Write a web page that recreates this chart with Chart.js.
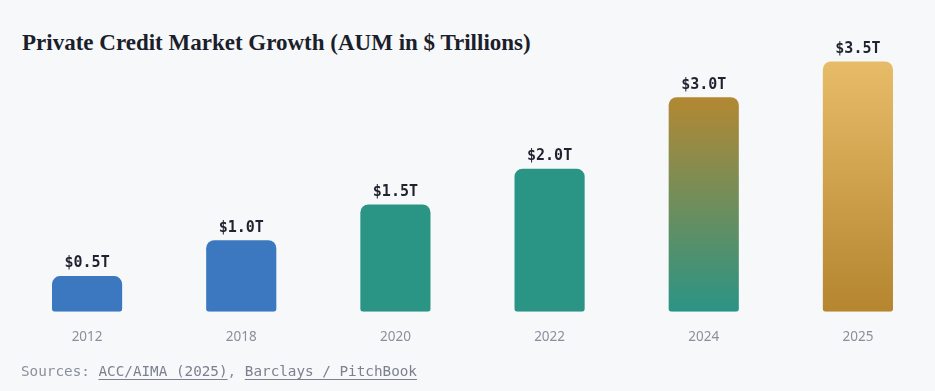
<!DOCTYPE html>
<html>
<head>
<meta charset="utf-8">
<script src="https://cdn.jsdelivr.net/npm/chart.js@4"></script>
<style>
  html, body { margin: 0; padding: 0; background: #f7f8fa; }
  body { width: 935px; height: 391px; position: relative; overflow: hidden; }
  h1 {
    position: absolute; left: 22px; top: 30px; margin: 0;
    font-family: "Liberation Serif", "DejaVu Serif", serif;
    font-weight: bold; font-size: 23px; color: #1b1e2b;
  }
  #wrap { position: absolute; left: 0; top: 0; width: 935px; height: 391px; }
  .src {
    position: absolute; left: 21px; top: 363px;
    font-family: "DejaVu Sans Mono", monospace; font-size: 14.3px; color: #8a8f9c;
  }
  .src a { color: #7b8190; text-decoration: underline; text-underline-offset: 3px; }
</style>
</head>
<body>
<h1>Private Credit Market Growth (AUM in $ Trillions)</h1>
<div id="wrap"><canvas id="myChart" width="935" height="391"></canvas></div>
<div class="src">Sources: <a>ACC/AIMA (2025)</a>, <a>Barclays / PitchBook</a></div>
<script>
var years = ["2012", "2018", "2020", "2022", "2024", "2025"];
var aum = [0.5, 1.0, 1.5, 2.0, 3.0, 3.5];
var barLabels = ["$0.5T", "$1.0T", "$1.5T", "$2.0T", "$3.0T", "$3.5T"];

// top colour / bottom colour for each bar
var topColors = ['#3b78c0', '#3b78c0', '#2a9485', '#2a9485', '#b38832', '#e7bc69'];
var bottomColors = ['#3b78c0', '#3b78c0', '#2a9485', '#2a9485', '#2a9485', '#b5852f'];

var valueLabels = {
  id: 'valueLabels',
  afterDatasetsDraw: function(chart) {
    var c = chart.ctx;
    var meta = chart.getDatasetMeta(0);
    c.save();
    c.font = 'bold 15px "DejaVu Sans Mono", monospace';
    c.fillStyle = '#1f2330';
    c.textAlign = 'center';
    c.textBaseline = 'bottom';
    meta.data.forEach(function(bar, i) {
      c.fillText(barLabels[i], bar.x, bar.y - 5);
    });
    c.restore();
  }
};

var ctx = document.getElementById("myChart").getContext('2d');
var myChart = new Chart(ctx, {
  type: 'bar',
  data: {
    labels: years,
    datasets: [{
      data: aum,
      backgroundColor: function(c) {
        var i = c.dataIndex;
        var chart = c.chart;
        if (!chart.chartArea || !chart.scales.y) return topColors[i];
        var y = chart.scales.y;
        var top = y.getPixelForValue(aum[i]);
        var bottom = y.getPixelForValue(0);
        var g = chart.ctx.createLinearGradient(0, top, 0, bottom);
        g.addColorStop(0, topColors[i]);
        g.addColorStop(1, bottomColors[i]);
        return g;
      },
      borderRadius: { topLeft: 8, topRight: 8, bottomLeft: 3, bottomRight: 3 },
      borderSkipped: false,
      barPercentage: 0.455,
      categoryPercentage: 1
    }]
  },
  options: {
    responsive: false,
    animation: false,
    layout: { padding: { left: 10, right: 0, top: 40, bottom: 37 } },
    plugins: { legend: { display: false }, tooltip: { enabled: false } },
    scales: {
      x: {
        grid: { display: false },
        border: { display: false },
        ticks: { color: '#8a8f9c', font: { family: '"Noto Sans", sans-serif', size: 13.5 }, padding: 9 }
      },
      y: {
        display: false,
        min: 0,
        max: 3.8
      }
    }
  },
  plugins: [valueLabels]
});
</script>
</body>
</html>
